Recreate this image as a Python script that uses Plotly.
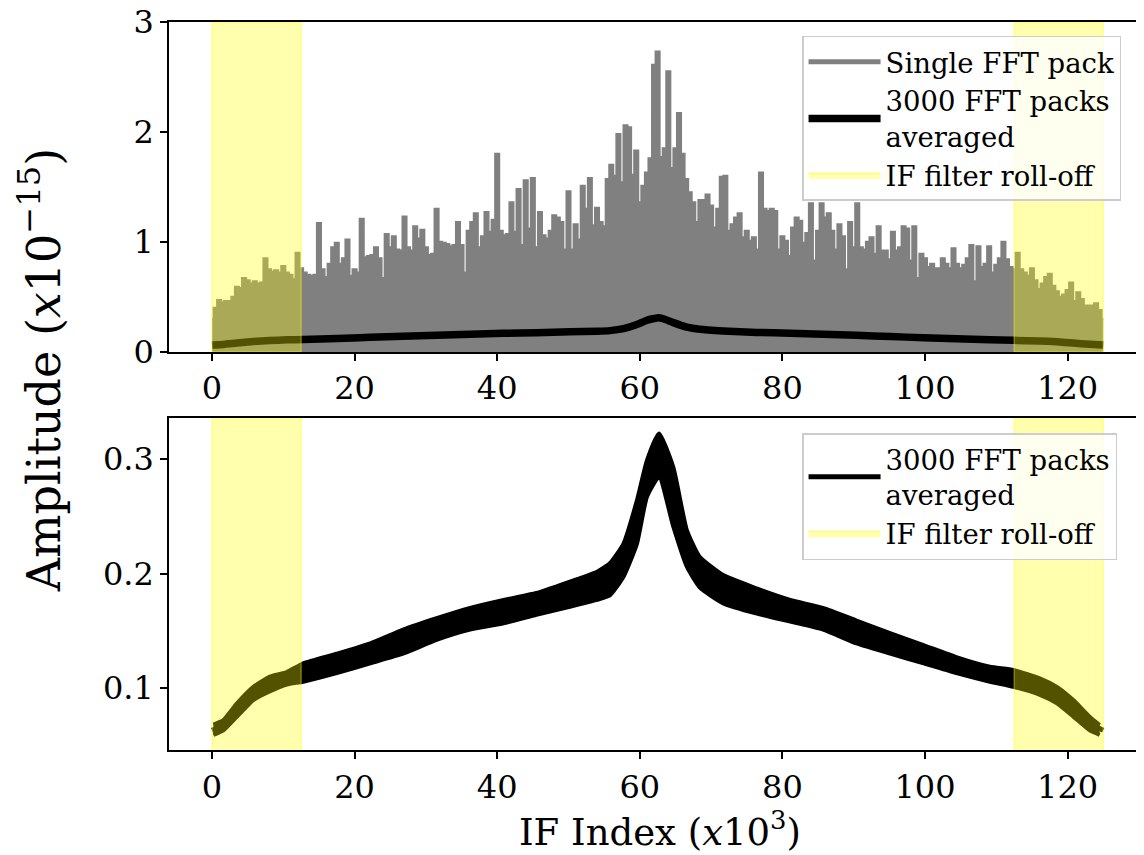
import plotly.graph_objects as go

# ---------------- data ----------------
# Single FFT pack: envelope sampled every 0.5 (x10^3 IF index), x10^-15
single_step = 0.5
single_y = [
    0.30, 0.40, 0.47, 0.45, 0.46, 0.46, 0.50, 0.59, 0.58, 0.67,
    0.65, 0.62, 0.64, 0.62, 0.63, 0.85, 0.75, 0.73, 0.74, 0.72,
    0.78, 0.72, 0.70, 0.66, 0.90, 0.76, 0.72, 0.70, 0.69, 0.70,
    1.17, 0.75, 0.68, 0.80, 0.95, 0.99, 0.80, 0.85, 1.02, 0.69,
    0.75, 0.72, 1.21, 0.86, 0.87, 0.88, 0.95, 0.85, 0.67, 1.07,
    0.95, 1.05, 0.93, 0.92, 1.23, 0.95, 0.92, 1.14, 1.03, 1.11,
    0.95, 0.88, 0.89, 1.30, 1.00, 0.99, 0.98, 0.96, 0.97, 1.18,
    0.97, 0.72, 1.10, 1.18, 1.26, 0.95, 1.05, 1.27, 1.09, 1.20,
    1.80, 1.10, 1.06, 1.07, 1.36, 1.09, 1.48, 0.97, 1.56, 1.12,
    1.58, 0.95, 1.27, 1.06, 1.03, 1.10, 1.24, 1.22, 1.18, 0.93,
    1.46, 0.93, 1.16, 1.02, 1.51, 1.30, 1.58, 1.15, 1.31, 1.18,
    1.14, 1.57, 1.70, 1.60, 1.98, 1.54, 2.06, 2.04, 1.61, 1.83,
    1.36, 1.51, 1.63, 1.76, 2.61, 2.73, 1.77, 1.85, 2.55, 1.67,
    1.85, 2.17, 1.80, 1.57, 1.45, 1.36, 1.18, 1.38, 1.38, 1.43,
    1.33, 1.13, 1.30, 1.59, 1.60, 1.10, 1.16, 1.22, 1.26, 1.04,
    1.10, 1.01, 1.04, 0.93, 1.63, 1.30, 1.28, 1.30, 1.28, 0.93,
    1.05, 1.01, 0.87, 1.13, 1.22, 1.19, 0.99, 1.08, 1.35, 0.83,
    1.10, 1.35, 1.22, 1.26, 1.10, 0.93, 1.16, 1.05, 0.75, 1.18,
    0.95, 1.35, 0.95, 0.93, 1.00, 1.04, 0.89, 1.14, 0.92, 0.92,
    0.84, 1.09, 0.92, 0.95, 1.14, 1.12, 0.83, 1.14, 0.67, 0.89,
    0.85, 0.77, 0.80, 0.76, 0.76, 0.85, 0.80, 0.76, 0.94, 0.80,
    0.76, 0.79, 0.85, 0.97, 0.64, 0.96, 0.77, 0.80, 0.96, 0.72,
    0.79, 0.85, 1.00, 0.84, 0.77, 0.75, 0.90, 0.75, 0.72, 0.69,
    0.76, 0.65, 0.57, 0.62, 0.68, 0.71, 0.60, 0.55, 0.50, 0.52,
    0.56, 0.63, 0.46, 0.54, 0.48, 0.42, 0.42, 0.42, 0.44, 0.38,
    0.30,
]
single_x = [i * single_step for i in range(len(single_y))]

# 3000 FFT packs averaged (centre line)
avg_x = [0, 1.6, 3.5, 5.8, 8.1, 10.5, 12.8, 17.5, 22.2, 26.8,
         31.5, 36.2, 40.9, 45.5, 50.2, 54.0, 55.8, 57.7, 59.6, 61.0,
         62.0, 62.6, 63.3, 64.7, 66.6, 68.4, 71.7, 76.4, 81.1, 85.7,
         90.4, 95.1, 99.8, 104.4, 109.1, 112.4, 116.1, 118.5, 120.8, 123.1, 125]
avg_y = [0.063, 0.068, 0.081, 0.095, 0.104, 0.110, 0.114, 0.123, 0.133, 0.142,
         0.152, 0.162, 0.170, 0.175, 0.183, 0.188, 0.194, 0.212, 0.250, 0.288,
         0.304, 0.312, 0.302, 0.267, 0.226, 0.206, 0.191, 0.178, 0.170, 0.161,
         0.151, 0.140, 0.130, 0.120, 0.110, 0.1055, 0.0997, 0.0924, 0.0808, 0.0692, 0.063]

# noisy band of the averaged spectrum (upper / lower edges)
band_x = [0.2, 1.6, 3.5, 5.8, 8.1, 10.5, 12.8, 17.5, 22.2, 26.8,
          31.5, 36.2, 40.9, 45.5, 50.2, 54.0, 55.8, 57.7, 59.6, 61.0,
          62.7, 64.7, 66.6, 68.4, 71.7, 76.4, 81.1, 85.7, 90.4, 95.1,
          99.8, 104.4, 109.1, 112.4, 116.1, 118.5, 120.8, 123.1, 124.5]
band_hi = [0.068, 0.072, 0.0866, 0.101, 0.110, 0.114, 0.1216, 0.130, 0.139, 0.151,
           0.161, 0.170, 0.177, 0.183, 0.193, 0.2016, 0.209, 0.226, 0.264, 0.299,
           0.3225, 0.293, 0.238, 0.2147, 0.1987, 0.187, 0.177, 0.170, 0.159, 0.148,
           0.1375, 0.127, 0.1186, 0.1157, 0.1085, 0.101, 0.0895, 0.075, 0.0677]
band_lo = [0.059, 0.063, 0.075, 0.0895, 0.097, 0.103, 0.1055, 0.113, 0.1216, 0.130,
           0.142, 0.151, 0.1565, 0.164, 0.171, 0.177, 0.181, 0.197, 0.226, 0.267,
           0.2845, 0.241, 0.206, 0.188, 0.174, 0.165, 0.158, 0.151, 0.139, 0.130,
           0.1216, 0.113, 0.1055, 0.101, 0.094, 0.0866, 0.075, 0.063, 0.059]

# IF filter roll-off spans
rolloff_start = [0, 112.5]
rolloff_end = [12.5, 125]

x_ticks = [0, 20, 40, 60, 80, 100, 120]
top_yticks = [0, 1, 2, 3]
bot_yticks = [0.1, 0.2, 0.3]
top_yrange = [0, 3]
bot_yrange = [0.0454, 0.336]
x_range = [-6.03, 131.84]

# ---------------- styling ----------------
FONT = "DejaVu Serif"
GRAY = "#808080"
YELLOW_FILL = "rgba(255,255,0,0.32)"
YELLOW_LINE = "rgba(255,255,0,0.55)"


def span_polygon(y0, y1):
    xs, ys = [], []
    for a, b in zip(rolloff_start, rolloff_end):
        xs += [a, b, b, a, a, None]
        ys += [y0, y0, y1, y1, y0, None]
    return xs, ys


fig = go.Figure()

# ---- top panel ----
fig.add_trace(go.Scatter(
    x=single_x, y=single_y, mode="lines", line=dict(color=GRAY, width=2.5, shape="hvh"),
    fill="tozeroy", fillcolor=GRAY, showlegend=False, xaxis="x", yaxis="y"))
fig.add_trace(go.Scatter(
    x=[None], y=[None], mode="lines", line=dict(color=GRAY, width=5),
    name="Single FFT pack", xaxis="x", yaxis="y", legend="legend"))
fig.add_trace(go.Scatter(
    x=avg_x, y=avg_y, mode="lines", line=dict(color="black", width=7.5, shape="spline", smoothing=0.6),
    name="3000 FFT packs<br>averaged", xaxis="x", yaxis="y", legend="legend"))
sx, sy = span_polygon(top_yrange[0], top_yrange[1])
fig.add_trace(go.Scatter(
    x=sx, y=sy, mode="lines", fill="toself", fillcolor=YELLOW_FILL,
    line=dict(color=YELLOW_LINE, width=1), name="IF filter roll-off",
    xaxis="x", yaxis="y", legend="legend"))

# ---- bottom panel ----
fig.add_trace(go.Scatter(
    x=band_x, y=band_lo, mode="lines", line=dict(color="black", width=4, shape="spline", smoothing=0.5),
    showlegend=False, xaxis="x2", yaxis="y2"))
fig.add_trace(go.Scatter(
    x=band_x, y=band_hi, mode="lines", line=dict(color="black", width=4, shape="spline", smoothing=0.5),
    fill="tonexty", fillcolor="black", showlegend=False, xaxis="x2", yaxis="y2"))
fig.add_trace(go.Scatter(
    x=avg_x, y=avg_y, mode="lines", line=dict(color="black", width=5, shape="spline", smoothing=0.6),
    name="3000 FFT packs<br>averaged", xaxis="x2", yaxis="y2", legend="legend2"))
sx2, sy2 = span_polygon(bot_yrange[0], bot_yrange[1])
fig.add_trace(go.Scatter(
    x=sx2, y=sy2, mode="lines", fill="toself", fillcolor=YELLOW_FILL,
    line=dict(color=YELLOW_LINE, width=1), name="IF filter roll-off",
    xaxis="x2", yaxis="y2", legend="legend2"))

axis_common = dict(
    showline=True, linecolor="black", linewidth=1.5, ticks="outside", ticklen=7,
    tickwidth=1.5, tickcolor="black", showgrid=False, zeroline=False, automargin=False,
    ticklabeloverflow="allow",
    tickfont=dict(family=FONT, size=32, color="black"),
)

legend_common = dict(
    bgcolor="rgba(255,255,255,0.8)", bordercolor="#cccccc", borderwidth=1.5,
    font=dict(family=FONT, size=27.5, color="black"), xanchor="left", yanchor="top",
    tracegroupgap=0, itemwidth=72, traceorder="normal",
)

fig.update_layout(
    width=1144, height=855,
    margin=dict(l=161, r=0, t=0, b=0, autoexpand=False),
    paper_bgcolor="white", plot_bgcolor="white",
    xaxis=dict(domain=[0, 1], anchor="y", range=x_range, tickvals=x_ticks, mirror=True, **axis_common),
    yaxis=dict(domain=[0.5977, 0.9836], anchor="x", range=top_yrange, tickvals=top_yticks, **axis_common),
    xaxis2=dict(domain=[0, 1], anchor="y2", range=x_range, tickvals=x_ticks, mirror=True, **axis_common),
    yaxis2=dict(domain=[0.1316, 0.5205], anchor="x2", range=bot_yrange, tickvals=bot_yticks,
                ticktext=["0.1", "0.2", "0.3"], **axis_common),
    legend=dict(x=0.644, y=0.9673, **legend_common),
    legend2=dict(x=0.644, y=0.5029, **legend_common),
    annotations=[
        dict(text="Amplitude (<i>x</i>10<sup>\u221215</sup>)", xref="paper", yref="paper",
             x=-0.131, y=0.5766, xanchor="center", yanchor="middle", textangle=-90,
             showarrow=False, font=dict(family=FONT, size=46, color="black")),
        dict(text="IF Index (<i>x</i>10<sup>3</sup>)", xref="paper", yref="paper",
             x=0.4995, y=0.0386, xanchor="center", yanchor="middle",
             showarrow=False, font=dict(family=FONT, size=37, color="black")),
    ],
)

fig.write_html("out.html")
